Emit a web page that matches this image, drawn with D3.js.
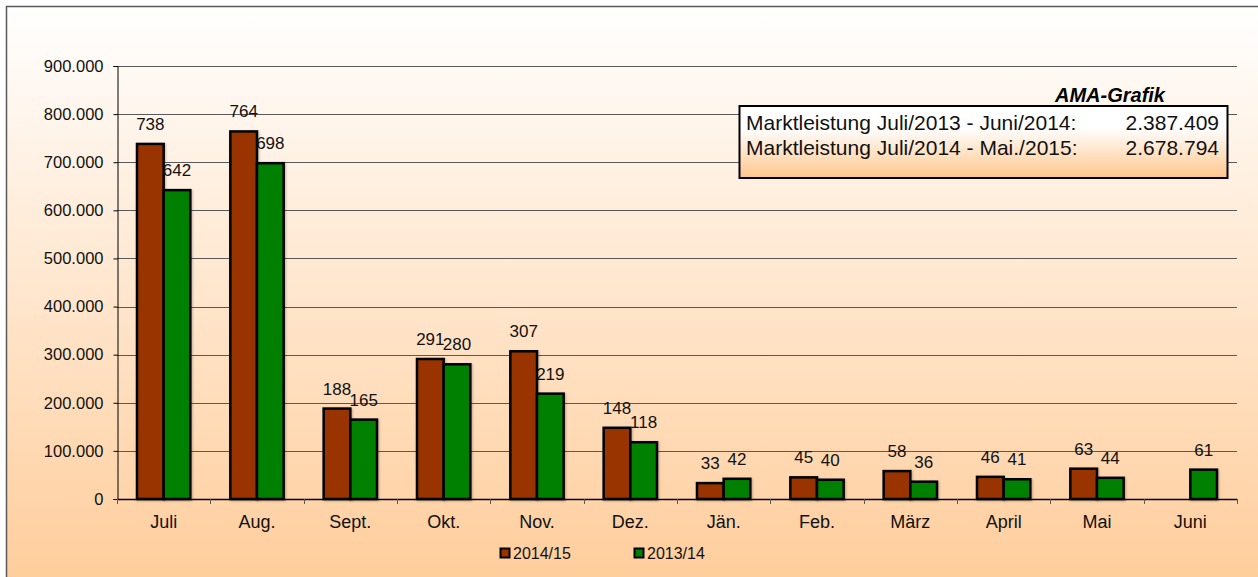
<!DOCTYPE html>
<html>
<head>
<meta charset="utf-8">
<script src="https://cdn.jsdelivr.net/npm/d3@7"></script>
<style>
  html, body { margin: 0; padding: 0; background: #fff; }
  svg { display: block; font-family: "Liberation Sans", Arial, sans-serif; }
</style>
</head>
<body>
<svg id="chart" width="1258" height="577"></svg>
<script>
// data (values in units, labels shown in thousands)
const months = ["Juli", "Aug.", "Sept.", "Okt.", "Nov.", "Dez.", "Jän.", "Feb.", "März", "April", "Mai", "Juni"];
const series = ["2014/15", "2013/14"];
const values1415 = [738000, 764000, 188000, 291000, 307000, 148000, 33000, 45000, 58000, 46000, 63000, null];
const values1314 = [642000, 698000, 165000, 280000, 219000, 118000, 42000, 40000, 36000, 41000, 44000, 61000];
const yTicks = [0, 100000, 200000, 300000, 400000, 500000, 600000, 700000, 800000, 900000];
const boxLines = ["Marktleistung Juli/2013 - Juni/2014:", "Marktleistung Juli/2014 - Mai./2015:"];
const boxValues = ["2.387.409", "2.678.794"];

const colors = { "2014/15": "#993300", "2013/14": "#008000" };

const svg = d3.select("#chart");
const defs = svg.append("defs");

// background gradient (white top -> peach bottom)
const bg = defs.append("linearGradient").attr("id", "bgGrad")
  .attr("x1", 0).attr("y1", 0).attr("x2", 0).attr("y2", 1);
bg.append("stop").attr("offset", "0%").attr("stop-color", "#ffffff");
bg.append("stop").attr("offset", "100%").attr("stop-color", "#ffcc99");

const boxGrad = defs.append("linearGradient").attr("id", "boxGrad")
  .attr("x1", 0).attr("y1", 0).attr("x2", 0).attr("y2", 1);
boxGrad.append("stop").attr("offset", "0%").attr("stop-color", "#ffffff");
boxGrad.append("stop").attr("offset", "30%").attr("stop-color", "#ffffff");
boxGrad.append("stop").attr("offset", "100%").attr("stop-color", "#ffc68c");

svg.append("rect").attr("x", 0).attr("y", 0).attr("width", 1258).attr("height", 577).attr("fill", "#fff");
svg.append("rect")
  .attr("x", 6.5).attr("y", 6.5).attr("width", 1270).attr("height", 590)
  .attr("fill", "url(#bgGrad)").attr("stroke", "#595959").attr("stroke-width", 1.5);

const plotLeft = 117, plotRight = 1237, plotTop = 66, plotBottom = 499;

const x = d3.scaleBand().domain(months).range([plotLeft, plotRight]).padding(0);
const x1 = d3.scaleBand().domain(series).range([0, x.bandwidth()]).paddingInner(0).paddingOuter(0.75);
const y = d3.scaleLinear().domain([0, 900000]).range([plotBottom, plotTop]);

const fmt = d3.formatLocale({ decimal: ",", thousands: ".", grouping: [3], currency: ["", ""] }).format(",d");

// gridlines
svg.append("g")
  .selectAll("line")
  .data(yTicks.filter(d => d > 0))
  .join("line")
  .attr("x1", plotLeft).attr("x2", plotRight)
  .attr("y1", d => Math.round(y(d)) + 0.5).attr("y2", d => Math.round(y(d)) + 0.5)
  .attr("stroke", "#595959").attr("stroke-width", 1);

// y axis
const yAxis = svg.append("g")
  .attr("transform", `translate(${plotLeft + 0.5},0)`)
  .call(d3.axisLeft(y).tickValues(yTicks).tickSize(4).tickPadding(10).tickFormat(fmt));
yAxis.select(".domain").attr("stroke", "#000").attr("stroke-width", 1);
yAxis.selectAll(".tick line").attr("stroke", "#000");
yAxis.selectAll("text").attr("font-size", 16.5).attr("fill", "#111")
  .attr("font-family", "'Liberation Sans', Arial, sans-serif");

// bars
const rows = months.map((m, i) => ({ month: m, "2014/15": values1415[i], "2013/14": values1314[i] }));

const groups = svg.append("g").selectAll("g")
  .data(rows)
  .join("g")
  .attr("transform", d => `translate(${x(d.month)},0)`);

groups.selectAll("rect")
  .data(d => series.map(k => ({ key: k, value: d[k] })).filter(e => e.value != null))
  .join("rect")
  .attr("x", e => x1(e.key))
  .attr("y", e => y(e.value))
  .attr("width", x1.bandwidth())
  .attr("height", e => y(0) - y(e.value))
  .attr("fill", e => colors[e.key])
  .attr("stroke", "#000")
  .attr("stroke-width", 2.5)
  .style("filter", "drop-shadow(1px 1px 1px rgba(0,0,0,0.25))");

groups.selectAll("text")
  .data(d => series.map(k => ({ key: k, value: d[k] })).filter(e => e.value != null))
  .join("text")
  .attr("x", e => x1(e.key) + x1.bandwidth() / 2)
  .attr("y", e => y(e.value) - 20)
  .attr("dy", "0.35em")
  .attr("text-anchor", "middle")
  .attr("font-size", 17)
  .attr("fill", "#111")
  .text(e => Math.round(e.value / 1000));

// x axis
svg.append("line")
  .attr("x1", plotLeft).attr("x2", plotRight)
  .attr("y1", plotBottom + 0.5).attr("y2", plotBottom + 0.5)
  .attr("stroke", "#000").attr("stroke-width", 1.5);
svg.append("g").selectAll("line")
  .data(d3.range(months.length + 1))
  .join("line")
  .attr("x1", i => Math.round(plotLeft + i * x.step()) + 0.5)
  .attr("x2", i => Math.round(plotLeft + i * x.step()) + 0.5)
  .attr("y1", plotBottom).attr("y2", plotBottom + 5)
  .attr("stroke", "#595959");
svg.append("g").selectAll("text")
  .data(months)
  .join("text")
  .attr("x", d => x(d) + x.bandwidth() / 2)
  .attr("y", plotBottom + 23)
  .attr("dy", "0.35em")
  .attr("text-anchor", "middle")
  .attr("font-size", 18)
  .attr("fill", "#111")
  .text(d => d);

// legend
const legendX = [500, 634];
const legend = svg.append("g").selectAll("g")
  .data(series)
  .join("g")
  .attr("transform", (d, i) => `translate(${legendX[i]},553)`);
legend.append("rect")
  .attr("x", 0.5).attr("y", -4.5).attr("width", 9).attr("height", 9)
  .attr("fill", d => colors[d]).attr("stroke", "#000").attr("stroke-width", 2);
legend.append("text")
  .attr("x", 13).attr("y", 0).attr("dy", "0.35em")
  .attr("font-size", 16).attr("fill", "#111")
  .text(d => d);

// info box
svg.append("text")
  .attr("x", 1110).attr("y", 95).attr("dy", "0.35em")
  .attr("text-anchor", "middle")
  .attr("font-size", 20).attr("font-style", "italic").attr("font-weight", "bold")
  .attr("fill", "#000")
  .text("AMA-Grafik");

svg.append("rect")
  .attr("x", 739.5).attr("y", 106).attr("width", 488).attr("height", 72)
  .attr("fill", "url(#boxGrad)").attr("stroke", "#000").attr("stroke-width", 2);

const boxRows = svg.append("g").selectAll("g")
  .data(boxLines)
  .join("g")
  .attr("transform", (d, i) => `translate(0,${123 + i * 25})`);
boxRows.append("text")
  .attr("x", 746).attr("dy", "0.35em")
  .attr("font-size", 21).attr("fill", "#111")
  .text(d => d);
boxRows.append("text")
  .attr("x", 1219).attr("dy", "0.35em")
  .attr("text-anchor", "end")
  .attr("font-size", 21).attr("fill", "#111")
  .text((d, i) => boxValues[i]);
</script>
</body>
</html>
